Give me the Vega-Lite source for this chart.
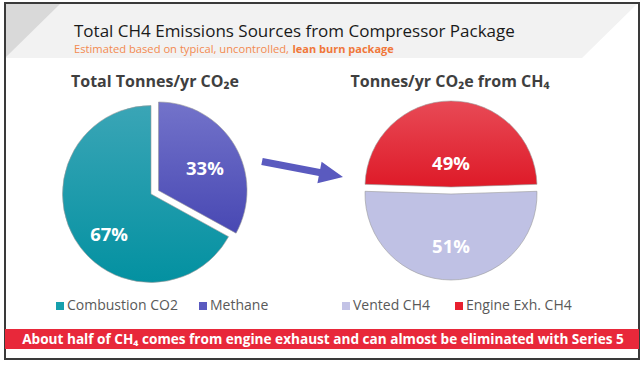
{
  "$schema": "https://vega.github.io/schema/vega-lite/v6.json",
  "width": 644,
  "height": 366,
  "autosize": {"type": "fit", "contains": "padding"},
  "padding": 0,
  "background": "white",
  "config": {
    "view": {"stroke": null},
    "font": "Open Sans",
    "legend": {
      "orient": "none",
      "direction": "horizontal",
      "title": null,
      "padding": 0,
      "symbolType": "square",
      "symbolSize": 64,
      "symbolStrokeWidth": 0,
      "labelFont": "Open Sans",
      "labelFontSize": 14,
      "labelColor": "#595959",
      "labelOffset": 0
    }
  },
  "datasets": {
    "total": [
      {"source": "Combustion CO2", "share": 0.67},
      {"source": "Methane", "share": 0.33}
    ],
    "ch4": [
      {"source": "Vented CH4", "share": 0.51},
      {"source": "Engine Exh. CH4", "share": 0.49}
    ]
  },
  "layer": [
    {
      "data": {"values": [{}]},
      "mark": {"type": "point", "shape": "M5,4 L637,4 L582,58 L5,58 Z", "size": 4, "x": 0, "y": 0, "filled": true, "color": "#f2f2f2", "opacity": 1, "strokeWidth": 0},
      "encoding": {}
    },
    {
      "data": {"values": [{}]},
      "mark": {"type": "point", "shape": "M5,4 L60,4 L6,57 L5,57 Z", "size": 4, "x": 0, "y": 0, "filled": true, "color": "#d9d9d9", "opacity": 1, "strokeWidth": 0},
      "encoding": {}
    },
    {
      "data": {"values": [{}]},
      "mark": {"type": "rect", "x": 5, "x2": 639, "y": 3, "y2": 359, "fill": null, "fillOpacity": 0, "stroke": "#3a3a3a", "strokeWidth": 2},
      "encoding": {}
    },
    {
      "data": {"values": [{}]},
      "mark": {"type": "text", "text": "Total CH4 Emissions Sources from Compressor Package", "x": 74, "y": 36.7, "align": "left", "baseline": "alphabetic", "fontSize": 17, "color": "#1a1a1a"},
      "encoding": {}
    },
    {
      "data": {"values": [{}]},
      "mark": {"type": "text", "text": "Estimated based on typical, uncontrolled,", "x": 74, "y": 53, "align": "left", "baseline": "alphabetic", "fontSize": 11.2, "color": "#f28a50"},
      "encoding": {}
    },
    {
      "data": {"values": [{}]},
      "mark": {"type": "text", "text": "lean burn package", "x": 292.5, "y": 53, "align": "left", "baseline": "alphabetic", "fontSize": 11, "fontWeight": "bold", "color": "#f0773a"},
      "encoding": {}
    },
    {
      "data": {"values": [{}]},
      "mark": {"type": "text", "text": "Total Tonnes/yr CO₂e", "x": 155, "y": 86.5, "align": "center", "baseline": "alphabetic", "fontSize": 16, "fontWeight": "bold", "color": "#3f3f3f"},
      "encoding": {}
    },
    {
      "data": {"values": [{}]},
      "mark": {"type": "text", "text": "Tonnes/yr CO₂e from CH₄", "x": 450, "y": 86.5, "align": "center", "baseline": "alphabetic", "fontSize": 16, "fontWeight": "bold", "color": "#3f3f3f"},
      "encoding": {}
    },
    {
      "data": {"values": [{}]},
      "mark": {"type": "point", "shape": "M262.7,158.1 L320.2,169.1 L321.6,161.7 L343,177 L317.4,183.3 L318.8,175.9 L261.3,164.9 Z", "size": 4, "x": 0, "y": 0, "filled": true, "color": "#5a5abf", "opacity": 1, "strokeWidth": 0},
      "encoding": {}
    },
    {
      "data": {"values": [{}]},
      "mark": {"type": "rect", "x": 5, "x2": 639, "y": 329, "y2": 349, "color": "#e8283a"},
      "encoding": {}
    },
    {
      "data": {"values": [{}]},
      "mark": {"type": "text", "text": "About half of CH₄ comes from engine exhaust and can almost be eliminated with Series 5", "x": 323, "y": 339.5, "align": "center", "baseline": "middle", "fontSize": 13.6, "fontWeight": "bold", "color": "white"},
      "encoding": {}
    },
    {
      "data": {"name": "total"},
      "encoding": {
        "theta": {"field": "share", "type": "quantitative", "stack": true},
        "order": {"field": "source", "sort": "descending"},
        "color": {
          "field": "source",
          "type": "nominal",
          "scale": {"domain": ["Combustion CO2", "Methane"], "range": ["#17a0ad", "#5a5ac0"]},
          "legend": {"legendX": 53, "legendY": 299, "columnPadding": 18}
        }
      },
      "layer": [
        {
          "mark": {"type": "arc", "x": 151, "y": 194, "outerRadius": 0}
        },
        {
          "mark": {"type": "arc", "x": 151, "y": 194, "outerRadius": 88.5, "stroke": "#9a9a9a", "strokeWidth": 0.6},
          "encoding": {
            "color": {"value": {"gradient": "linear", "x1": 0, "y1": 0, "x2": 0, "y2": 1, "stops": [{"offset": 0, "color": "#3aa5b6"}, {"offset": 1, "color": "#0391a1"}]}},
            "opacity": {"condition": {"test": "datum.source === 'Combustion CO2'", "value": 1}, "value": 0}
          }
        },
        {
          "mark": {"type": "arc", "x": 158.5, "y": 190.5, "outerRadius": 88.5, "stroke": "#9a9a9a", "strokeWidth": 0.6},
          "encoding": {
            "color": {"value": {"gradient": "linear", "x1": 0, "y1": 0, "x2": 0, "y2": 1, "stops": [{"offset": 0, "color": "#7373ca"}, {"offset": 1, "color": "#4848b3"}]}},
            "opacity": {"condition": {"test": "datum.source === 'Methane'", "value": 1}, "value": 0}
          }
        },
        {
          "mark": {"type": "text", "x": 151, "y": 194, "radius": 58, "dx": 8, "dy": 11, "fontSize": 18.5, "fontWeight": "bold"},
          "encoding": {
            "text": {"field": "share", "type": "quantitative", "format": ".0%"},
            "color": {"value": "white"},
            "opacity": {"condition": {"test": "datum.source === 'Combustion CO2'", "value": 1}, "value": 0}
          }
        },
        {
          "mark": {"type": "text", "x": 158.5, "y": 190.5, "radius": 51, "dx": 2.5, "dy": 4.5, "fontSize": 18.5, "fontWeight": "bold"},
          "encoding": {
            "text": {"field": "share", "type": "quantitative", "format": ".0%"},
            "color": {"value": "white"},
            "opacity": {"condition": {"test": "datum.source === 'Methane'", "value": 1}, "value": 0}
          }
        }
      ]
    },
    {
      "data": {"name": "ch4"},
      "encoding": {
        "theta": {"field": "share", "type": "quantitative", "stack": true, "scale": {"range": [-1.5394, 4.7438]}},
        "order": {"field": "source", "sort": "ascending"},
        "color": {
          "field": "source",
          "type": "nominal",
          "scale": {"domain": ["Vented CH4", "Engine Exh. CH4"], "range": ["#c3c3e6", "#e8202e"]},
          "legend": {"legendX": 339, "legendY": 299, "columnPadding": 22}
        }
      },
      "layer": [
        {
          "mark": {"type": "arc", "x": 451, "y": 190, "outerRadius": 0}
        },
        {
          "mark": {"type": "arc", "x": 451, "y": 187, "outerRadius": 86, "stroke": "#9a9a9a", "strokeWidth": 0.6},
          "encoding": {
            "color": {"value": {"gradient": "linear", "x1": 0, "y1": 0, "x2": 0, "y2": 1, "stops": [{"offset": 0, "color": "#e84a56"}, {"offset": 1, "color": "#de1a28"}]}},
            "opacity": {"condition": {"test": "datum.source === 'Engine Exh. CH4'", "value": 1}, "value": 0}
          }
        },
        {
          "mark": {"type": "arc", "x": 451, "y": 194, "outerRadius": 86, "stroke": "#9a9a9a", "strokeWidth": 0.6},
          "encoding": {
            "color": {"value": "#bfc1e4"},
            "opacity": {"condition": {"test": "datum.source === 'Vented CH4'", "value": 1}, "value": 0}
          }
        },
        {
          "mark": {"type": "text", "x": 451, "y": 187, "radius": 23.5, "fontSize": 18.5, "fontWeight": "bold"},
          "encoding": {
            "text": {"field": "share", "type": "quantitative", "format": ".0%"},
            "color": {"value": "white"},
            "opacity": {"condition": {"test": "datum.source === 'Engine Exh. CH4'", "value": 1}, "value": 0}
          }
        },
        {
          "mark": {"type": "text", "x": 451, "y": 194, "radius": 53, "fontSize": 18.5, "fontWeight": "bold"},
          "encoding": {
            "text": {"field": "share", "type": "quantitative", "format": ".0%"},
            "color": {"value": "white"},
            "opacity": {"condition": {"test": "datum.source === 'Vented CH4'", "value": 1}, "value": 0}
          }
        }
      ]
    }
  ],
  "resolve": {"scale": {"color": "independent", "theta": "independent"}, "legend": {"color": "independent"}}
}
